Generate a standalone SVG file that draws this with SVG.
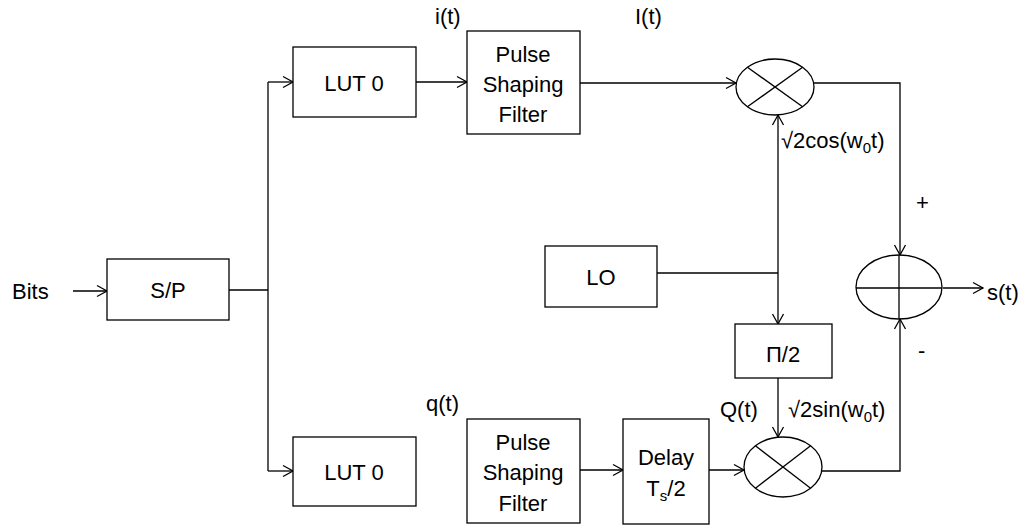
<svg xmlns="http://www.w3.org/2000/svg" width="1027" height="527" viewBox="0 0 1027 527">
<style>
.box{fill:#fff;stroke:#000;stroke-width:1.3}
.ln{fill:none;stroke:#000;stroke-width:1.3}
.arr{fill:none;stroke:#000;stroke-width:1.3;marker-end:url(#ah)}
text{font-family:"Liberation Sans",Arial,sans-serif;font-size:22px;fill:#000}
.c{text-anchor:middle}
</style>
<defs>
<marker id="ah" markerUnits="userSpaceOnUse" markerWidth="14" markerHeight="14" refX="11" refY="7" orient="auto">
<path d="M1,1.5 L11,7 L1,12.5" fill="none" stroke="#000" stroke-width="1.3"/>
</marker>
</defs>
<rect width="1027" height="527" fill="#fff"/>
<g id="connectors">
<line class="arr" x1="73" y1="291" x2="107" y2="291"/>
<polyline class="ln" points="229,290 268,290"/>
<line class="ln" x1="268" y1="82" x2="268" y2="471"/>
<line class="arr" x1="268" y1="82" x2="293" y2="82"/>
<line class="arr" x1="268" y1="471" x2="293" y2="471"/>
<line class="arr" x1="416" y1="82" x2="467" y2="82"/>
<line class="arr" x1="580" y1="83" x2="736" y2="83"/>
<polyline class="arr" points="814,83 900,83 900,255"/>
<line class="ln" x1="657" y1="273" x2="778" y2="273"/>
<line class="arr" x1="778" y1="273" x2="778" y2="115"/>
<line class="arr" x1="778" y1="273" x2="778" y2="324"/>
<line class="arr" x1="778" y1="378" x2="778" y2="437"/>
<line class="arr" x1="580" y1="470" x2="623" y2="470"/>
<line class="arr" x1="709" y1="470" x2="744" y2="470"/>
<polyline class="arr" points="822,471 900,471 900,319"/>
<line class="arr" x1="943" y1="288" x2="983" y2="288"/>
</g>
<g id="bits-label"><text x="12" y="299">Bits</text></g>
<g id="sp"><rect class="box" x="107" y="259" width="122" height="61"/><text class="c" x="168" y="298">S/P</text></g>
<g id="lut0-top"><rect class="box" x="293" y="47" width="123" height="70"/><text class="c" x="354" y="91">LUT 0</text></g>
<g id="psf-top"><rect class="box" x="467" y="31" width="113" height="103"/>
<text class="c" x="523" y="62">Pulse</text><text class="c" x="523" y="92">Shaping</text><text class="c" x="523" y="122">Filter</text></g>
<g id="label-it"><text x="435" y="24">i(t)</text></g>
<g id="label-It"><text x="635" y="24">I(t)</text></g>
<g id="mixer-top">
<ellipse class="box" cx="775" cy="87" rx="39" ry="28"/>
<line class="ln" x1="747.4" y1="67.2" x2="802.6" y2="106.8"/>
<line class="ln" x1="747.4" y1="106.8" x2="802.6" y2="67.2"/>
</g>
<g id="label-cos"><text x="781" y="148">√2cos(w<tspan font-size="15" dy="5">0</tspan><tspan dy="-5">t)</tspan></text></g>
<g id="lo"><rect class="box" x="545" y="246" width="112" height="61"/><text class="c" x="601" y="285">LO</text></g>
<g id="pi2"><rect class="box" x="735" y="324" width="97" height="54"/><text class="c" x="783" y="362">Π/2</text></g>
<g id="sum">
<ellipse class="box" cx="899" cy="287" rx="43" ry="32"/>
<line class="ln" x1="899" y1="255" x2="899" y2="319"/>
<line class="ln" x1="856" y1="288" x2="942" y2="288"/>
</g>
<g id="plus"><text x="916" y="210">+</text></g>
<g id="minus"><text x="918" y="358">-</text></g>
<g id="label-st"><text x="987" y="300">s(t)</text></g>
<g id="lut0-bot"><rect class="box" x="293" y="437" width="123" height="69"/><text class="c" x="354" y="480">LUT 0</text></g>
<g id="label-qt"><text x="426" y="411">q(t)</text></g>
<g id="psf-bot"><rect class="box" x="467" y="419" width="113" height="104"/>
<text class="c" x="523" y="450">Pulse</text><text class="c" x="523" y="480">Shaping</text><text class="c" x="523" y="511">Filter</text></g>
<g id="delay"><rect class="box" x="623" y="419" width="86" height="105"/>
<text class="c" x="666" y="465">Delay</text>
<text class="c" x="666" y="496">T<tspan font-size="15" dy="5">s</tspan><tspan dy="-5">/2</tspan></text></g>
<g id="label-Qt"><text x="720" y="417">Q(t)</text></g>
<g id="label-sin"><text x="788" y="417">√2sin(w<tspan font-size="15" dy="5">0</tspan><tspan dy="-5">t)</tspan></text></g>
<g id="mixer-bot">
<ellipse class="box" cx="783" cy="467" rx="39" ry="30"/>
<line class="ln" x1="755.4" y1="445.8" x2="810.6" y2="488.2"/>
<line class="ln" x1="755.4" y1="488.2" x2="810.6" y2="445.8"/>
</g>
</svg>
